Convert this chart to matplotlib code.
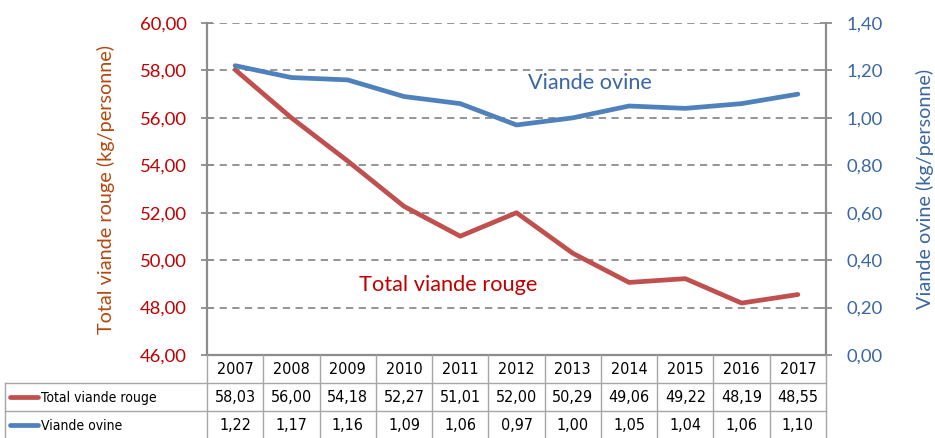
import matplotlib
matplotlib.use("Agg")
import matplotlib.pyplot as plt
from matplotlib.lines import Line2D
from matplotlib import font_manager as fm

years = ["2007", "2008", "2009", "2010", "2011", "2012", "2013", "2014", "2015", "2016", "2017"]
total_rouge = [58.03, 56.00, 54.18, 52.27, 51.01, 52.00, 50.29, 49.06, 49.22, 48.19, 48.55]
viande_ovine = [1.22, 1.17, 1.16, 1.09, 1.06, 0.97, 1.00, 1.05, 1.04, 1.06, 1.10]
series_names = ["Total viande rouge", "Viande ovine"]
left_ticks = [46, 48, 50, 52, 54, 56, 58, 60]
right_ticks = [0.0, 0.2, 0.4, 0.6, 0.8, 1.0, 1.2, 1.4]

RED = "#C0504D"
BLUE = "#4F81BD"
RED_TXT = "#C00000"
BLUE_TXT = "#3A67A3"
ORANGE_TXT = "#B5480F"
GREY = "#8C8C8C"

MAIN_FONT = ["Lato", "DejaVu Sans"]
plt.rcParams["font.family"] = MAIN_FONT

# find a narrow font for the table if one is installed
narrow_file = None
for f in fm.fontManager.ttflist:
    n = (f.name + " " + f.fname).lower()
    if ("narrow" in n or "condensed" in n) and "bold" not in n and "italic" not in n \
            and "oblique" not in n and "mono" not in n and "serif" not in f.name.lower():
        if f.weight in (400, "normal", "regular", "book"):
            narrow_file = f.fname
            break
if narrow_file:
    TABLE_FP = fm.FontProperties(fname=narrow_file, size=11.5)
    TABLE_FP_SMALL = fm.FontProperties(fname=narrow_file, size=10)
else:
    TABLE_FP = fm.FontProperties(family=["Liberation Sans"], size=10.5)
    TABLE_FP_SMALL = fm.FontProperties(family=["Liberation Sans"], size=9.5)

W, H = 935, 438
fig = plt.figure(figsize=(W / 100, H / 100), dpi=100)
ax_l, ax_r, ax_t, ax_b = 207, 826, 23, 355
ax = fig.add_axes([ax_l / W, 1 - ax_b / H, (ax_r - ax_l) / W, (ax_b - ax_t) / H])
ax2 = ax.twinx()

x = list(range(len(years)))
ax.set_xlim(-0.5, len(years) - 0.5)
ax.set_ylim(46, 60)
ax2.set_ylim(0, 1.4)

for t in left_ticks[1:]:
    ax.axhline(t, color=GREY, lw=1.3, ls=(0, (4, 3)), zorder=1)

ax.plot(x, total_rouge, color=RED, lw=3.4, solid_capstyle="round", zorder=3)
ax2.plot(x, viande_ovine, color=BLUE, lw=3.4, solid_capstyle="round", zorder=3)

for a in (ax, ax2):
    a.spines["top"].set_visible(False)
    for s in ("left", "right", "bottom"):
        a.spines[s].set_color(GREY)
        a.spines[s].set_linewidth(1.6)
ax2.spines["left"].set_visible(False)
ax.spines["right"].set_visible(False)
ax2.spines["bottom"].set_visible(False)

ax.set_xticks([])
ax.set_yticks(left_ticks)
ax.set_yticklabels([f"{v:.2f}".replace(".", ",") for v in left_ticks])
ax.tick_params(axis="y", direction="inout", length=9, width=1.3, color=GREY,
               labelcolor=RED_TXT, labelsize=13.3, pad=10)
ax2.set_yticks(right_ticks)
ax2.set_yticklabels([f"{v:.2f}".replace(".", ",") for v in right_ticks])
ax2.tick_params(axis="y", direction="inout", length=9, width=1.3, color=GREY,
                labelcolor=BLUE_TXT, labelsize=13.3, pad=10)

ax.set_ylabel("Total viande rouge (kg/personne)", color=ORANGE_TXT, fontsize=14.3, labelpad=18)
ax2.set_ylabel("Viande ovine (kg/personne)", color=BLUE_TXT, fontsize=14.3, labelpad=24)

ax.text(6.3, 57.47, series_names[1], color=BLUE_TXT, fontsize=15.6, ha="center", va="center")
ax.text(3.78, 48.95, series_names[0], color=RED_TXT, fontsize=15.7, ha="center", va="center")

# ---- data table below the plot ----
tab_left = 5
row_edges = [355, 383, 411, 439]
col_w = (ax_r - ax_l) / len(years)
TC = "#A6A6A6"

def fx(px):
    return px / W

def fy(py):
    return 1 - py / H

def hline(x0, x1, y, lw=1.0, c=TC):
    fig.add_artist(Line2D([fx(x0), fx(x1)], [fy(y), fy(y)], color=c, lw=lw))

def vline(xp, y0, y1, lw=1.0, c=TC):
    fig.add_artist(Line2D([fx(xp), fx(xp)], [fy(y0), fy(y1)], color=c, lw=lw))

hline(tab_left, ax_r, row_edges[1])
hline(tab_left, ax_r, row_edges[2])
vline(tab_left, row_edges[1], row_edges[3])
for i in range(len(years) + 1):
    vline(ax_l + i * col_w, row_edges[0], row_edges[3])

rows = [total_rouge, viande_ovine]
colors = [RED, BLUE]
for i, yr in enumerate(years):
    cx = ax_l + (i + 0.5) * col_w
    fig.text(fx(cx), fy((row_edges[0] + row_edges[1]) / 2 + 1), yr, ha="center", va="center",
             fontproperties=TABLE_FP, color="black")
    for r, vals in enumerate(rows):
        cy = (row_edges[r + 1] + row_edges[r + 2]) / 2 + 1
        fig.text(fx(cx), fy(cy), f"{vals[i]:.2f}".replace(".", ","), ha="center", va="center",
                 fontproperties=TABLE_FP, color="black")

for r, name in enumerate(series_names):
    cy = (row_edges[r + 1] + row_edges[r + 2]) / 2
    fig.add_artist(Line2D([fx(10), fx(38)], [fy(cy), fy(cy)], color=colors[r], lw=3.4,
                          solid_capstyle="round"))
    fig.text(fx(41), fy(cy + 1), name, ha="left", va="center",
             fontproperties=TABLE_FP_SMALL, color="black")

fig.savefig("out.png", dpi=100)
